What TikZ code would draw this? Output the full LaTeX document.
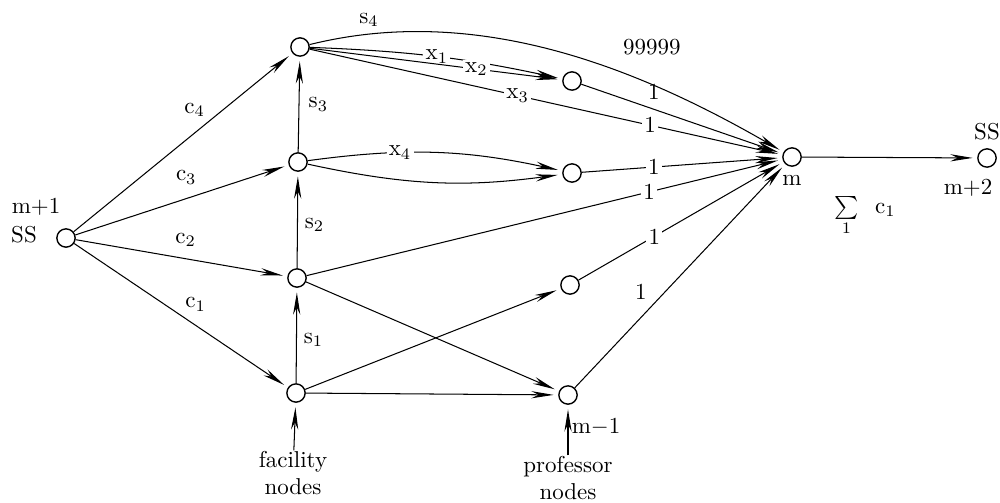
\documentclass[tikz,border=0pt]{standalone}
\usepackage{amsmath,amssymb}
\usepackage{tikz}
\usetikzlibrary{arrows.meta,positioning}

\tikzset{
  vtx/.style={circle, draw, line width=0.6pt, minimum size=0.28cm, inner sep=0pt},
  flow/.style={->, shorten >=2pt},
  lbl/.style={inner sep=1pt},
  cutlbl/.style={inner sep=1pt, fill=white},
}

\begin{document}
\begin{tikzpicture}[>={Stealth[length=3.4mm,width=1.1mm]}, x=0.153cm, y=-0.153cm, line width=0.45pt]
    \useasboundingbox (0,0) rectangle (100,50.3);

    % Source, collector and sink
    \node[vtx] (src) at (6.6,23.8) {};
    \node[vtx] (m) at (79.2,15.7) {};
    \node[vtx] (snk) at (98.7,15.8) {};

    % Facility nodes
    \node[vtx] (f1) at (29.6,39.3) {};
    \node[vtx] (f2) at (29.7,27.8) {};
    \node[vtx] (f3) at (29.8,16.2) {};
    \node[vtx] (f4) at (30.0,4.7) {};

    % Professor nodes
    \node[vtx] (p1) at (57.2,8.1) {};
    \node[vtx] (p2) at (57.2,17.3) {};
    \node[vtx] (p3) at (57.0,28.5) {};
    \node[vtx] (p4) at (56.8,39.5) {};

    % Texts beside the nodes
    \node at (2.4,23.5) {SS};
    \node at (3.6,20.7) {m$+$1};
    \node[below=0pt of m] {m};
    \node[above=0pt of snk] {SS};
    \node at (96.8,18.8) {m$+$2};
    \node at (59.6,42.7) {m$-$1};
    \node[align=center, inner sep=0pt] (facl) at (29.3,47.3) {facility\\nodes};
    \node[align=center, inner sep=0pt] (profl) at (56.8,47.8) {professor\\nodes};

    % Source to facilities
    \draw[flow] (src) -- (f4) node[lbl, pos=0.62, above left=1pt] {$\mathrm{c}_4$};
    \draw[flow] (src) -- (f3) node[lbl, pos=0.52, above=5pt] {$\mathrm{c}_3$};
    \draw[flow] (src) -- (f2) node[lbl, pos=0.52, above=4pt] {$\mathrm{c}_2$};
    \draw[flow] (src) -- (f1) node[lbl, pos=0.5, above right=1pt] {$\mathrm{c}_1$};

    % Between facilities
    \draw[flow] (f1) -- (f2) node[lbl, pos=0.45, right=2pt] {$\mathrm{s}_1$};
    \draw[flow] (f2) -- (f3) node[lbl, pos=0.45, right=2pt] {$\mathrm{s}_2$};
    \draw[flow] (f3) -- (f4) node[lbl, pos=0.5, right=3pt] {$\mathrm{s}_3$};
    \draw[flow] (f4) to[out=14, in=150, looseness=0.9]
        node[lbl, pos=0.12, above=2pt] {$\mathrm{s}_4$}
        node[lbl, pos=0.71, above=12pt] {99999} (m);

    % Facilities to professors
    \draw[flow] (f4) to[bend left=5] node[cutlbl, pos=0.5] {$\mathrm{x}_1$} (p1);
    \draw[flow] (f4) -- (p1) node[cutlbl, pos=0.66] {$\mathrm{x}_2$};
    \draw[flow] (f4) -- (m)
        node[cutlbl, pos=0.44] {$\mathrm{x}_3$}
        node[cutlbl, pos=0.72] {1};
    \draw[flow] (f3) to[bend left=10] node[cutlbl, pos=0.35] {$\mathrm{x}_4$} (p2);
    \draw[flow] (f3) to[bend right=10] (p2);
    \draw[flow] (f2) -- (m) node[cutlbl, pos=0.72] {1};
    \draw[flow] (f2) -- (p4);
    \draw[flow] (f1) -- (p3);
    \draw[flow] (f1) -- (p4);

    % Professors to collector
    \draw[flow] (p1) -- (m) node[lbl, pos=0.36, above=3pt] {1};
    \draw[flow] (p2) -- (m) node[cutlbl, pos=0.36] {1};
    \draw[flow] (p3) -- (m) node[cutlbl, pos=0.37] {1};
    \draw[flow] (p4) -- (m) node[lbl, pos=0.37, above left=2pt] {1};

    % Collector to sink
    \draw[flow] (m) -- (snk) node[lbl, pos=0.36, below=0.55cm] {$\sum\limits_{1}\;\; \mathrm{c}_1$};

    % Pointers to the node groups
    \draw[flow] (facl) -- (f1);
    \draw[flow] (profl) -- (p4);
\end{tikzpicture}
\end{document}
